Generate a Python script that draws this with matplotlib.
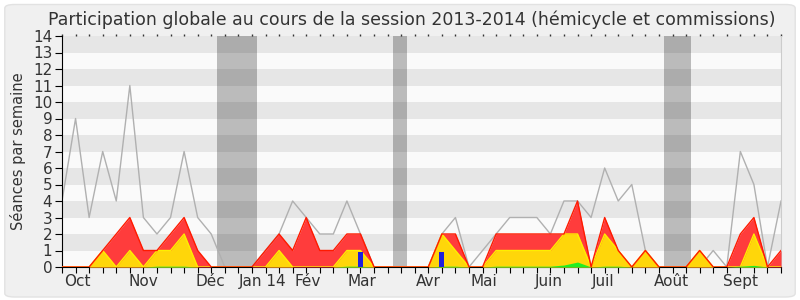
import numpy as np
import matplotlib
matplotlib.use("Agg")
import matplotlib.pyplot as plt
from matplotlib.patches import FancyBboxPatch

# weekly values, session 2013-2014 (week index 0 .. 53)
total = [4, 9, 3, 7, 4, 11, 3, 2, 3, 7, 3, 2, 0, 0, 0, 1, 2, 4, 3, 2,
         2, 4, 2, 0, 0, 0, 0, 0, 2, 3, 0, 1, 2, 3, 3, 3, 2, 4, 4, 3,
         6, 4, 5, 1, 0, 0, 0, 0, 1, 0, 7, 5, 0, 4]
presence = [0, 0, 0, 1, 2, 3, 1, 1, 2, 3, 1, 0, 0, 0, 0, 1, 2, 1, 3, 1,
            1, 2, 2, 0, 0, 0, 0, 0, 2, 2, 0, 0, 2, 2, 2, 2, 2, 2, 4, 0,
            3, 1, 0, 1, 0, 0, 0, 1, 0, 0, 2, 3, 0, 1]
participation = [0, 0, 0, 1, 0, 1, 0, 1, 1, 2, 0, 0, 0, 0, 0, 0, 1, 0, 0, 0,
                 0, 1, 1, 0, 0, 0, 0, 0, 2, 1, 0, 0, 1, 1, 1, 1, 1, 2, 2, 0,
                 2, 1, 0, 1, 0, 0, 0, 1, 0, 0, 0, 2, 0, 0]
interventions = [0, 0, 0, 0, 0, 0, 0, 0.05, 0.05, 0.05, 0, 0, 0, 0, 0, 0, 0, 0, 0, 0,
                 0, 0.05, 0.05, 0, 0, 0, 0, 0, 0.05, 0.05, 0, 0, 0.05, 0.05, 0.05, 0.05, 0.05, 0.12, 0.3, 0,
                 0.05, 0.05, 0, 0, 0, 0, 0, 0, 0, 0, 0.05, 0.1, 0, 0]
questions_weeks = [22, 28]
questions = [0.9, 0.9]

vacances = [(11.4, 14.4), (24.4, 25.4), (44.4, 46.4)]

month_pos = [1.1, 6.0, 10.9, 14.8, 18.1, 22.1, 27.0, 31.1, 35.9, 39.9, 44.9, 50.0]
month_labels = ["Oct", "Nov", "Déc", "Jan 14", "Fév", "Mar", "Avr", "Mai",
                "Juin", "Juil", "Août", "Sept"]

weeks = np.arange(len(total))

fig = plt.figure(figsize=(8, 3), dpi=100)
fig.patch.set_facecolor("white")
fig.patches.append(FancyBboxPatch((0.006, 0.01), 0.988, 0.975, boxstyle="round,pad=0,rounding_size=0.012",
                                  transform=fig.transFigure, facecolor="#f0f0f0",
                                  edgecolor="#e2e2e2", lw=1, zorder=-10))
ax = fig.add_axes([0.0775, 0.11, 0.8988, 0.77])
ax.set_facecolor("#fafafa")

for k in range(1, 14, 2):
    ax.axhspan(k, k + 1, color="#e6e6e6", lw=0, zorder=0)
for a, b in vacances:
    ax.axvspan(a, b, color="black", alpha=0.25, lw=0, zorder=1)

ax.plot(weeks, total, color="#b0b0b0", lw=1, zorder=2)
ax.fill_between(weeks, presence, color="#ff3c3c", lw=0, zorder=3)
ax.fill_between(weeks, participation, color="#ffd60a", lw=0, zorder=4)
ax.plot(weeks, participation, color="#ffee00", lw=1, zorder=4.5)
ax.plot(weeks, presence, color="#ff1a00", lw=1, zorder=4.6)
ax.fill_between(weeks, interventions, color="#22ee22", lw=0, zorder=5)
ax.bar(questions_weeks, questions, width=0.35, color="#2020dd", lw=0, zorder=6)

ax.set_xlim(0, 53)
ax.set_ylim(0, 14)
ax.set_yticks(range(15))
ax.set_xticks(weeks)
ax.set_xticklabels([])
ax.tick_params(axis="x", length=4, width=0.8)
ax.tick_params(axis="y", length=5, width=0.8, labelsize=11, pad=2, labelcolor="#333333")
for x, lab in zip(month_pos, month_labels):
    ax.text(x, -0.45, lab, ha="center", va="top", fontsize=11, color="#333333")

top = ax.secondary_xaxis("top")
top.set_xticks(weeks)
top.set_xticklabels([])
top.tick_params(length=1.5, width=1, color="#333333")
top.spines["top"].set_visible(False)

ax.spines["top"].set_visible(False)
ax.spines["right"].set_color("#cccccc")
ax.set_ylabel("Séances par semaine", fontsize=10.5, color="#333333", labelpad=5)
fig.text(412 / 800, 0.935, "Participation globale au cours de la session 2013-2014 (hémicycle et commissions)",
         ha="center", va="center", fontsize=12.5, color="#333333")

fig.savefig("out.png", dpi=100)
